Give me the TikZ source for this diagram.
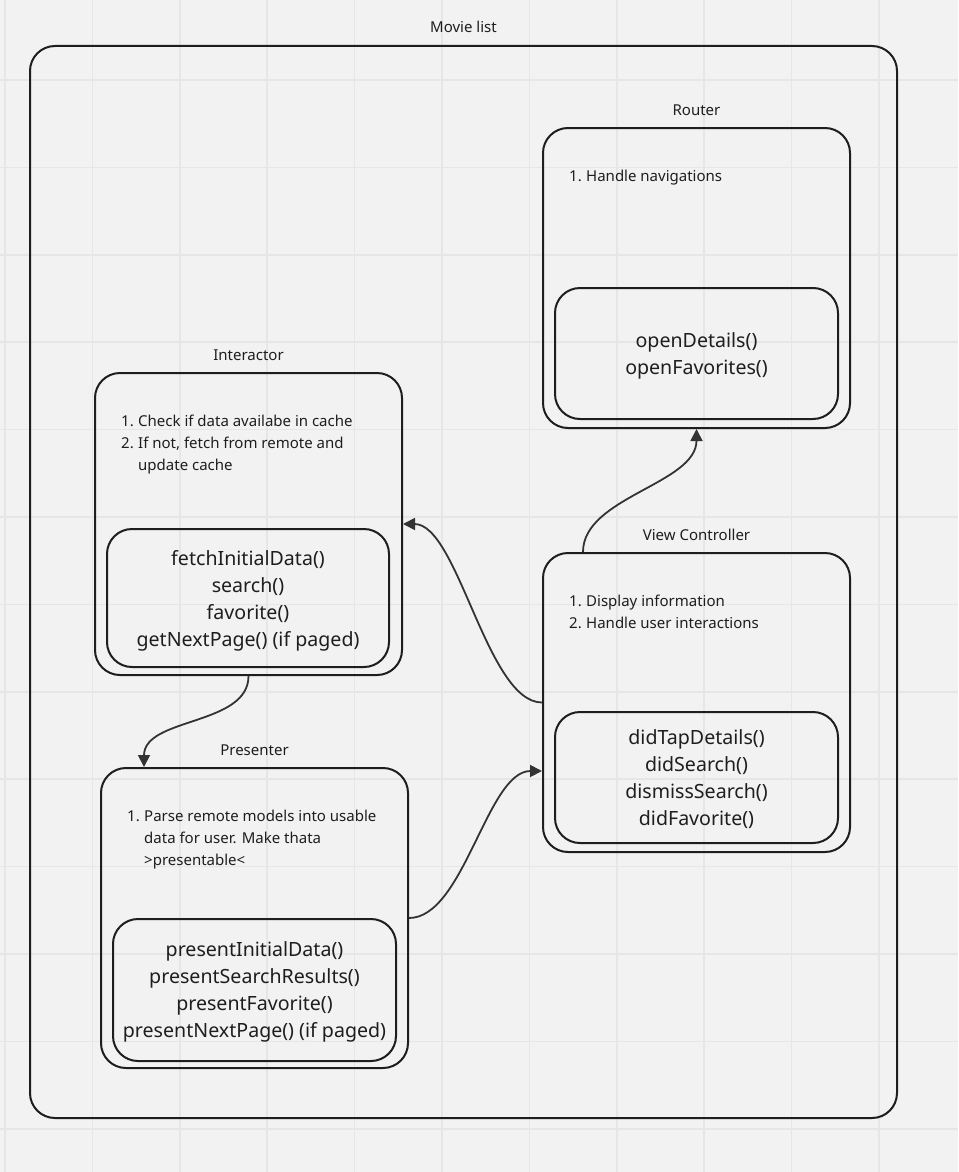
\documentclass[tikz,border=0pt]{standalone}
\usepackage{fontspec}
\setmainfont{Noto Sans}
\usetikzlibrary{arrows.meta,calc}

\definecolor{paper}{HTML}{F2F2F2}
\definecolor{gridc}{HTML}{E6E6E6}
\definecolor{ink}{HTML}{1E1E1E}
\definecolor{wire}{HTML}{333333}

\newcommand{\itemnum}[1]{\makebox[17pt][l]{#1}}
\newenvironment{dutylist}{\begin{tabular}[t]{@{}l@{}}}{\end{tabular}}

\begin{document}
\begin{tikzpicture}[x=1pt,y=-1pt,
  frame/.style={draw=ink, line width=2pt, rounded corners=25pt, inner sep=0pt},
  outerbox/.style={frame, minimum width=307pt, minimum height=300pt},
  innerbox/.style={frame, minimum width=283pt, minimum height=131pt,
    align=center, text depth=0pt, text=ink, font=\fontsize{19.6}{27}\selectfont},
  boxtitle/.style={text=ink, font=\fontsize{15}{18}\selectfont, inner sep=0pt},
  duties/.style={text=ink, font=\fontsize{15}{22}\selectfont,
    inner sep=0pt, anchor=base west},
  conn/.style={draw=wire, line width=1.8pt, -{Triangle[length=12pt,width=12pt]}},
]
% canvas and grid
\fill[paper] (0,0) rectangle (958,1172);
\useasboundingbox (0,0) rectangle (958,1172);
\foreach \i in {0,...,10}
  \draw[gridc, line width=1.6pt] ({5+87.4*\i},0) -- ({5+87.4*\i},1172);
\foreach \j in {0,...,12}
  \draw[gridc, line width=1.6pt] (0,{80+87.4*\j}) -- (958,{80+87.4*\j});

% module frame
\node[frame, minimum width=867pt, minimum height=1072pt] (module) at (463.5,582) {};
\node[boxtitle] (moduletitle) at ($(module.north)+(0,-18)$) {Movie list};

% Router
\node[outerbox] (router) at (696.5,278) {};
\node[boxtitle] (routertitle) at ($(router.north)+(0,-17)$) {Router};
\node[duties] (routerduties) at ($(router.north west)+(27,54)$)
  {\begin{dutylist}\itemnum{1.}Handle navigations\end{dutylist}};
\node[innerbox] (routerapi) at (696.5,353.5) {openDetails()\\openFavorites()};

% Interactor
\node[outerbox, minimum height=302pt] (intr) at (248.5,524) {};
\node[boxtitle] (intrtitle) at ($(intr.north)+(0,-17)$) {Interactor};
\node[duties] (intrduties) at ($(intr.north west)+(27,54)$)
  {\begin{dutylist}
   \itemnum{1.}Check if data availabe in cache\\
   \itemnum{2.}If not, fetch from remote and\\
   \itemnum{}update cache
   \end{dutylist}};
\node[innerbox, minimum width=282pt, minimum height=138pt] (intrapi) at (248,598)
  {fetchInitialData()\\search()\\favorite()\\getNextPage() (if paged)};

% Presenter
\node[outerbox] (pres) at (254.5,918) {};
\node[boxtitle] (prestitle) at ($(pres.north)+(0,-17)$) {Presenter};
\node[duties] (presduties) at ($(pres.north west)+(27,54)$)
  {\begin{dutylist}
   \itemnum{1.}Parse remote models into usable\\
   \itemnum{}data for user. Make thata\\
   \itemnum{}>presentable<
   \end{dutylist}};
\node[innerbox, minimum height=142pt] (presapi) at (254.5,990)
  {presentInitialData()\\presentSearchResults()\\presentFavorite()\\presentNextPage() (if paged)};

% View Controller
\node[outerbox, minimum height=299pt] (vc) at (696.5,702.5) {};
\node[boxtitle] (vctitle) at ($(vc.north)+(0,-17)$) {View Controller};
\node[duties] (vcduties) at ($(vc.north west)+(27,54)$)
  {\begin{dutylist}
   \itemnum{1.}Display information\\
   \itemnum{2.}Handle user interactions
   \end{dutylist}};
\node[innerbox] (vcapi) at (696.5,777.5)
  {didTapDetails()\\didSearch()\\dismissSearch()\\didFavorite()};

% data flow
\draw[conn] (intr.south) .. controls +(0,50) and +(0,-50) .. ($(pres.north west)+(44,0)$);
\draw[conn] (pres.east) .. controls +(55,0) and +(-55,0) .. ($(vc.west)+(0,68.5)$);
\draw[conn] (vc.west) .. controls +(-55,0) and +(55,0) .. (intr.east);
\draw[conn] ($(vc.north west)+(41,0)$) .. controls +(0,-55) and +(0,55) .. (router.south);
\end{tikzpicture}
\end{document}
